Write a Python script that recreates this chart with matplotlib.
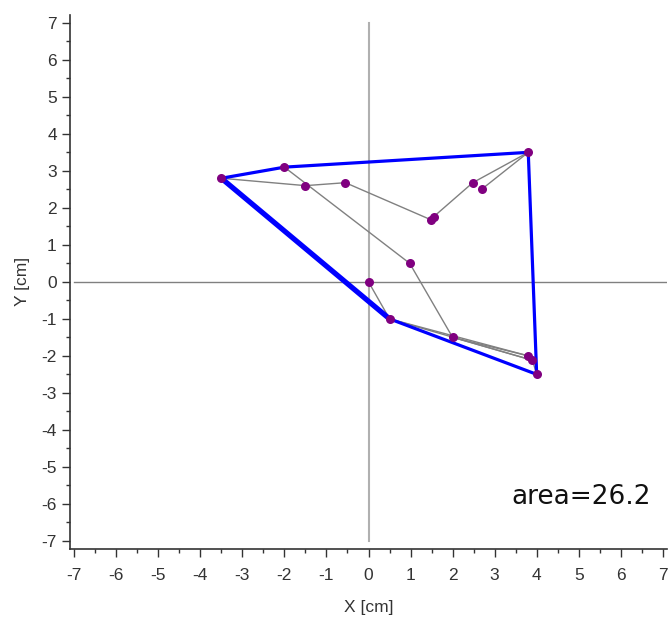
import matplotlib
matplotlib.use("Agg")
import matplotlib.pyplot as plt
from matplotlib.ticker import MultipleLocator

plt.rcParams['font.family'] = ['Liberation Sans', 'DejaVu Sans']
plt.rcParams['axes.unicode_minus'] = False

# Points (cm)
px = [-3.5, -2.0, -1.5, -0.55, 1.48, 1.55, 2.48, 2.69, 3.8, 0.98, 0.0, 0.5, 2.0, 3.8, 3.9, 4.0]
py = [2.8, 3.1, 2.6, 2.68, 1.68, 1.76, 2.68, 2.5, 3.5, 0.5, 0.0, -1.0, -1.5, -2.0, -2.12, -2.5]

# gray connecting segments (index pairs)
gray_edges = [(0, 2), (2, 3), (3, 4), (5, 6), (6, 8), (7, 8), (1, 9), (9, 12),
              (10, 11), (11, 13), (11, 14), (12, 13), (12, 14), (13, 14), (14, 15), (0, 1)]

# convex hull (indices, closed)
hull = [0, 1, 8, 15, 11, 0]
hull_thick = (11, 0)

area_label = "area=26.2"
ticks = list(range(-7, 8))

fig = plt.figure(figsize=(6.70, 6.21), dpi=100)
ax = fig.add_axes([70/670, 72/621, 597/670, 534.3/621])
ax.set_xlim(-7.1, 7.1)
ax.set_ylim(-7.22, 7.22)

# zero lines
ax.plot([0, 0], [-7, 7], color='#b0b0b0', lw=1.5, zorder=1)
ax.plot([-7, 7.1], [0, 0], color='#808080', lw=1.0, zorder=1)

for i, j in gray_edges:
    ax.plot([px[i], px[j]], [py[i], py[j]], color='#808080', lw=1.0, zorder=2)

for k in range(len(hull) - 1):
    i, j = hull[k], hull[k + 1]
    lw = 3.8 if (i, j) == hull_thick else 2.3
    ax.plot([px[i], px[j]], [py[i], py[j]], color='#0000ff', lw=lw, zorder=3,
            solid_capstyle='round')

ax.plot(px, py, 'o', color='#800080', ms=6.5, zorder=4, markeredgewidth=0)

ax.text(5.05, -5.82, area_label, fontsize=19, ha='center', va='center',
        family=['DejaVu Sans'], color='#111111')

for s in ['top', 'right']:
    ax.spines[s].set_visible(False)
for s in ['left', 'bottom']:
    ax.spines[s].set_color('#333333')
    ax.spines[s].set_linewidth(1.2)

ax.set_xticks(ticks)
ax.set_yticks(ticks)
ax.xaxis.set_minor_locator(MultipleLocator(0.5))
ax.yaxis.set_minor_locator(MultipleLocator(0.5))
ax.tick_params(which='major', length=6, width=1, color='#333333', labelsize=12.5,
               labelcolor='#333333', direction='out')
ax.tick_params(which='minor', length=3, width=1, color='#333333', direction='out')
ax.tick_params(axis='x', which='major', pad=8)

ax.set_xlabel('X [cm]', fontsize=12.5, color='#333333', labelpad=12)
ax.set_ylabel('Y [cm]', fontsize=12.5, color='#333333', labelpad=8)

fig.savefig('out.png', dpi=100)
